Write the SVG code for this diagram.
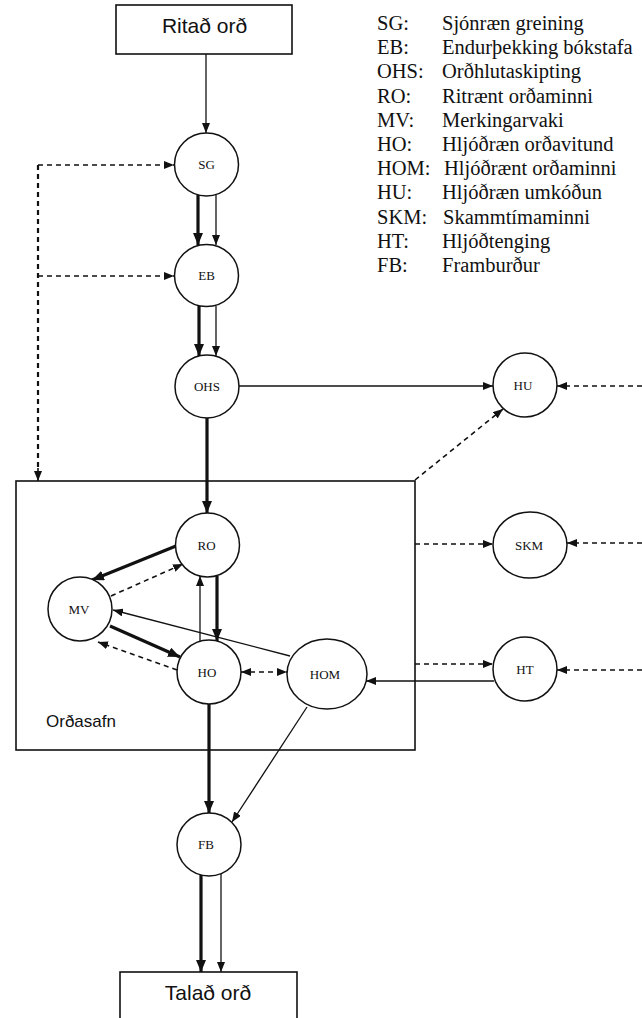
<svg xmlns="http://www.w3.org/2000/svg" width="642" height="1018" viewBox="0 0 642 1018">
<style>
.node{fill:#fff;stroke:#111;stroke-width:1.5}
.lbl{font-family:"Liberation Serif",serif;font-size:13px;text-anchor:middle;fill:#111}
.box{font-family:"Liberation Sans",Arial,sans-serif;fill:#111}
.leg{font-family:"Liberation Serif",serif;font-size:20.5px;fill:#111}
.thin{stroke:#111;stroke-width:1.3;fill:none;marker-end:url(#a)}
.thick{stroke:#111;stroke-width:3.2;fill:none;marker-end:url(#ab)}
.dash{stroke:#111;stroke-width:1.6;fill:none;stroke-dasharray:5 4;marker-end:url(#a)}
</style>
<defs>
<marker id="a" viewBox="0 0 10 8" refX="10" refY="4" markerWidth="10" markerHeight="8" markerUnits="userSpaceOnUse" orient="auto"><path d="M0,0 L10,4 L0,8 z" fill="#111"/></marker>
<marker id="as" viewBox="0 0 10 8" refX="0" refY="4" markerWidth="10" markerHeight="8" markerUnits="userSpaceOnUse" orient="auto"><path d="M10,0 L0,4 L10,8 z" fill="#111"/></marker>
<marker id="ab" viewBox="0 0 12 10" refX="12" refY="5" markerWidth="12" markerHeight="10" markerUnits="userSpaceOnUse" orient="auto"><path d="M0,0 L12,5 L0,10 z" fill="#111"/></marker>
</defs>
<rect width="642" height="1018" fill="#fff"/>

<g id="orðasafn">
<rect x="16" y="481" width="399" height="269" fill="none" stroke="#111" stroke-width="1.6"/>
<text class="box" x="46" y="727" font-size="17">Orðasafn</text>
</g>

<g id="connectors">
<line class="thin" x1="206" y1="54" x2="206" y2="133"/>
<line class="dash" x1="38" y1="165" x2="174" y2="165"/>
<line class="dash" x1="38" y1="276" x2="174" y2="276"/>
<line stroke="#111" stroke-width="2.2" stroke-dasharray="5 4" x1="38" y1="165" x2="38" y2="472"/>
<line class="dash" stroke-width="2.2" x1="38" y1="468" x2="38" y2="481" stroke-dasharray="none"/>
<line class="thick" x1="198" y1="195" x2="198" y2="245"/>
<line class="thin" x1="216" y1="195" x2="216" y2="245"/>
<line class="thick" x1="199" y1="306" x2="199" y2="356"/>
<line class="thin" x1="216" y1="306" x2="216" y2="356"/>
<line class="thick" x1="207" y1="418" x2="207" y2="513"/>
<line class="thin" x1="239" y1="386" x2="493" y2="386"/>
<line class="dash" x1="642" y1="386" x2="557" y2="386"/>
<line class="dash" x1="415" y1="480" x2="503" y2="409"/>
<line class="dash" x1="415" y1="544" x2="493" y2="544"/>
<line class="dash" x1="642" y1="543" x2="567" y2="543"/>
<line class="dash" x1="415" y1="664" x2="493" y2="664"/>
<line class="dash" x1="642" y1="670" x2="557" y2="670"/>
<line class="thin" x1="494" y1="681" x2="366" y2="681"/>
<line class="thick" x1="176" y1="546" x2="92" y2="580"/>
<line class="dash" x1="111" y1="596" x2="183" y2="564"/>
<line class="thin" x1="200" y1="641" x2="200" y2="576"/>
<line class="thick" x1="217" y1="576" x2="217" y2="641"/>
<line class="thin" x1="290" y1="656" x2="113" y2="610"/>
<line class="thick" x1="110" y1="626" x2="180" y2="657"/>
<line class="dash" x1="177" y1="670" x2="98" y2="642"/>
<line class="dash" x1="241" y1="672" x2="287" y2="672" marker-start="url(#as)"/>
<line class="thick" x1="209" y1="704" x2="209" y2="813"/>
<line class="thin" x1="307" y1="707" x2="232" y2="822"/>
<line class="thick" x1="201" y1="875" x2="201" y2="972"/>
<line class="thin" x1="221" y1="874" x2="221" y2="972"/>
</g>

<g id="ritad-ord">
<rect x="116" y="5" width="176" height="49" fill="#fff" stroke="#111" stroke-width="1.6"/>
<text class="box" x="204.5" y="33" font-size="21" text-anchor="middle">Ritað orð</text>
</g>
<g id="talad-ord">
<rect x="120" y="972" width="177" height="60" fill="#fff" stroke="#111" stroke-width="1.6"/>
<text class="box" x="208" y="1000" font-size="21" text-anchor="middle">Talað orð</text>
</g>

<g id="SG"><ellipse class="node" cx="206.5" cy="164.5" rx="32" ry="31.5"/><text class="lbl" x="206.5" y="169">SG</text></g>
<g id="EB"><ellipse class="node" cx="206.5" cy="275.5" rx="32" ry="31"/><text class="lbl" x="206.5" y="280">EB</text></g>
<g id="OHS"><ellipse class="node" cx="207" cy="386.5" rx="32" ry="31.5"/><text class="lbl" x="207" y="391">OHS</text></g>
<g id="HU"><ellipse class="node" cx="525" cy="385" rx="32" ry="32"/><text class="lbl" x="523" y="389.5">HU</text></g>
<g id="RO"><ellipse class="node" cx="207.5" cy="545" rx="32" ry="32"/><text class="lbl" x="206.5" y="549.5">RO</text></g>
<g id="SKM"><ellipse class="node" cx="530" cy="545" rx="37" ry="33"/><text class="lbl" x="529" y="549.5">SKM</text></g>
<g id="MV"><ellipse class="node" cx="80" cy="609" rx="32" ry="32"/><text class="lbl" x="79" y="613.5">MV</text></g>
<g id="HO"><ellipse class="node" cx="209" cy="672" rx="32" ry="32"/><text class="lbl" x="207" y="676.5">HO</text></g>
<g id="HOM"><ellipse class="node" cx="327" cy="674" rx="40" ry="35"/><text class="lbl" x="325" y="678.5">HOM</text></g>
<g id="HT"><ellipse class="node" cx="525" cy="669" rx="32" ry="32"/><text class="lbl" x="525" y="673.5">HT</text></g>
<g id="FB"><ellipse class="node" cx="209" cy="844.5" rx="32" ry="31.5"/><text class="lbl" x="206" y="849">FB</text></g>

<g id="legend" class="leg">
<text x="377" y="30">SG:</text><text x="442" y="30">Sjónræn greining</text>
<text x="377" y="54.2">EB:</text><text x="442" y="54.2">Endurþekking bókstafa</text>
<text x="377" y="78.4">OHS:</text><text x="442" y="78.4">Orðhlutaskipting</text>
<text x="377" y="102.6">RO:</text><text x="442" y="102.6">Ritrænt orðaminni</text>
<text x="377" y="126.8">MV:</text><text x="442" y="126.8">Merkingarvaki</text>
<text x="377" y="151">HO:</text><text x="442" y="151">Hljóðræn orðavitund</text>
<text x="377" y="175.2">HOM:</text><text x="444" y="175.2">Hljóðrænt orðaminni</text>
<text x="377" y="199.4">HU:</text><text x="442" y="199.4">Hljóðræn umkóðun</text>
<text x="377" y="223.6">SKM:</text><text x="443" y="223.6">Skammtímaminni</text>
<text x="377" y="247.8">HT:</text><text x="442" y="247.8">Hljóðtenging</text>
<text x="377" y="272">FB:</text><text x="442" y="272">Framburður</text>
</g>
</svg>
